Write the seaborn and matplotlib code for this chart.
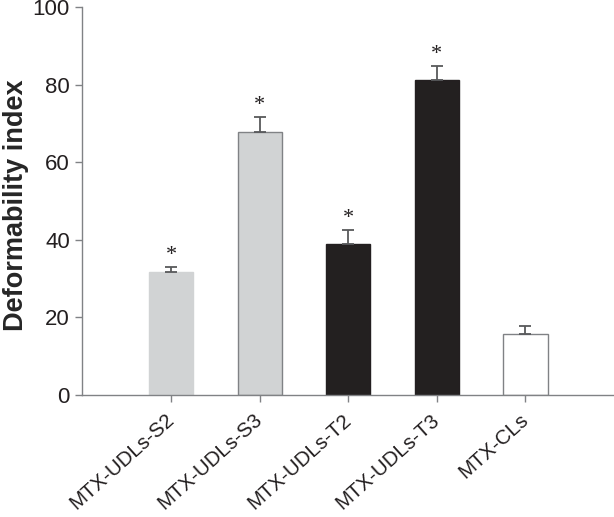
# =========================================================
# DEFORMABILITY INDEX BAR CHART
# =========================================================

import numpy as np
import pandas as pd
import matplotlib
matplotlib.use("Agg")
import matplotlib.pyplot as plt
import seaborn as sns

# =========================================================
# DATA
# =========================================================

formulations = [
    "MTX-UDLs-S2",
    "MTX-UDLs-S3",
    "MTX-UDLs-T2",
    "MTX-UDLs-T3",
    "MTX-CLs"
]

deformability = [31.7, 67.9, 39.0, 81.2, 15.8]
errors = [1.2, 3.8, 3.5, 3.7, 1.9]
significant = [True, True, True, True, False]

bar_colors = ["#d1d3d4", "#d1d3d4", "#231f20", "#231f20", "#ffffff"]
edge_colors = ["#d1d3d4", "#808285", "#231f20", "#231f20", "#808285"]

df = pd.DataFrame({
    "Formulation": formulations,
    "Deformability": deformability,
    "Error": errors
})

# =========================================================
# STYLE
# =========================================================

sns.set_style("ticks")
plt.rcParams["font.family"] = ["Liberation Sans", "DejaVu Sans"]

axis_gray = "#808285"

fig = plt.figure(figsize=(6.14, 5.17), dpi=100)
ax = fig.add_axes([0.133, 0.236, 0.867, 0.75])

# =========================================================
# BARS
# =========================================================

sns.barplot(
    data=df,
    x="Formulation",
    y="Deformability",
    hue="Formulation",
    palette=bar_colors,
    width=0.5,
    errorbar=None,
    legend=False,
    ax=ax
)

for patch, ec in zip(ax.patches, edge_colors):
    patch.set_edgecolor(ec)
    patch.set_linewidth(1.0)

# upper error bars only
x_pos = np.arange(len(formulations))

ax.errorbar(
    x_pos,
    df["Deformability"],
    yerr=[np.zeros(len(errors)), df["Error"]],
    fmt="none",
    ecolor="#58595b",
    elinewidth=1.3,
    capsize=4.3,
    capthick=1.3,
    zorder=1
)

# significance stars
for i, (val, err, sig) in enumerate(zip(deformability, errors, significant)):
    if sig:
        ax.text(
            i,
            val + err + 3.0,
            "*",
            ha="center",
            va="center",
            fontsize=16,
            color="#231f20",
            family="Liberation Serif"
        )

# =========================================================
# AXES
# =========================================================

ax.set_xlim(-1.01, 5.0)
ax.set_ylim(0, 100)
ax.set_yticks([0, 20, 40, 60, 80, 100])

ax.set_xlabel("")
ax.set_ylabel(
    "Deformability index",
    fontsize=19.5,
    fontweight="bold"
)
ax.yaxis.set_label_coords(-0.098, 0.49)

ax.tick_params(
    axis="both",
    direction="out",
    length=5,
    width=1,
    color=axis_gray,
    labelsize=16,
    labelcolor="#231f20"
)
ax.tick_params(axis="x", labelsize=14.8, pad=11)

plt.setp(
    ax.get_xticklabels(),
    rotation=42,
    ha="right",
    va="center",
    rotation_mode="anchor"
)

sns.despine(ax=ax)

for side in ["left", "bottom"]:
    ax.spines[side].set_color(axis_gray)
    ax.spines[side].set_linewidth(1)

# =========================================================
# SAVE
# =========================================================

fig.savefig("out.png", dpi=100)
